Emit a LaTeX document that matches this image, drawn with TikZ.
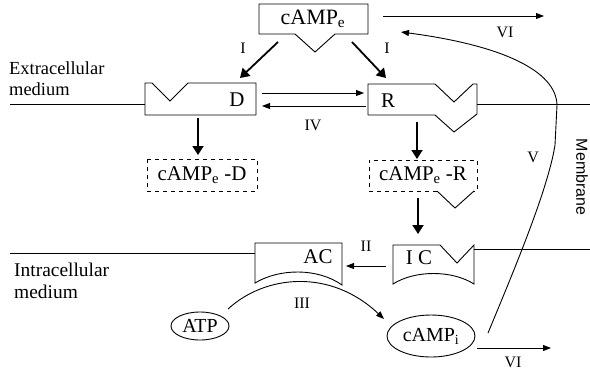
\documentclass[tikz,border=0pt]{standalone}
\usepackage{fontspec}
\setmainfont{Liberation Serif}
\newfontfamily\memfont{Liberation Sans}
\usetikzlibrary{arrows.meta, shapes.geometric, positioning}

\begin{document}
\begin{tikzpicture}[x=1bp, y=-1bp,
    outline/.style={draw, line width=0.9bp},
    dashbox/.style={draw, line width=0.9bp, dashed, dash pattern=on 4bp off 4bp},
    thickarrow/.style={line width=1.8bp, -{Triangle[length=9bp, width=11bp]}},
    thinarrow/.style={line width=0.9bp, -{Triangle[length=8bp, width=6bp]}},
    txt/.style={font=\fontsize{21}{23}\selectfont, inner sep=0pt},
    side/.style={inner sep=0pt, anchor=north west, align=left},
    roman/.style={font=\fontsize{16}{18}\selectfont, inner sep=0pt},
    molecule/.style={ellipse, draw, line width=0.9bp, inner sep=0pt, font=\fontsize{20}{22}\selectfont}]
  \useasboundingbox (0,0) rectangle (590,378);

  % membrane
  \draw[outline] (10,104) -- (145,104);
  \draw[outline] (477,104) -- (590,104);
  \draw[outline] (10,253) -- (255,253);
  \draw[outline] (474,249) -- (590,249);
  \node[side, font=\fontsize{18.5}{20.5}\selectfont] (extra) at (9,62) {Extracellular\\medium};
  \node[side, font=\fontsize{19.5}{22}\selectfont] (intra) at (14,263) {Intracellular\\medium};
  \node[font=\memfont\fontsize{16}{18}\selectfont, inner sep=0pt, rotate=-90] (membrane) at (582,177) {Membrane};

  % cAMPe outside
  \draw[outline] (295,34) -- (259,34) -- (259,4) -- (368,4) -- (368,34) -- (335,34) -- (315,52) -- cycle;
  \node[txt, font=\fontsize{22}{24}\selectfont] (campe) at (313,19) {cAMP\textsubscript{e}};

  % receptors D and R
  \draw[outline] (256,83) -- (188,83) -- (170,101) -- (152,83) -- (145,83) -- (145,115) -- (256,115) -- cycle;
  \node[txt] (D) at (237,100) {D};
  \draw[outline] (368,84) -- (435,84) -- (454,102) -- (473,84) -- (477,84) -- (477,114) -- (454,132) -- (435,115) -- (368,115) -- cycle;
  \node[txt] (R) at (388,101) {R};

  % complexes
  \draw[dashbox] (147,159) rectangle (257,191);
  \node[txt] (campeD) at (202,175) {cAMP\textsubscript{e} -D};
  \draw[dashbox] (437,191) -- (369,191) -- (369,160) -- (477,160) -- (477,191) -- (474,191);
  \draw[outline] (437,191) -- (455,208) -- (474,191);
  \node[txt] (campeR) at (423,175) {cAMP\textsubscript{e} -R};

  % AC and IC
  \draw[outline] (342,243) -- (255,243) -- (255,283) .. controls (280,268) and (318,268) .. (342,285) -- cycle;
  \node[txt] (AC) at (318,257) {AC};
  \draw[outline] (440,245) -- (393,245) -- (393,284) .. controls (415,270) and (452,270) .. (474,284) -- (474,245) -- (457,263) -- cycle;
  \node[txt] (IC) at (419,258) {I C};

  % molecules inside
  \node[molecule, minimum width=58bp, minimum height=28bp] (ATP) at (200,326) {ATP};
  \node[molecule, minimum width=88bp, minimum height=42bp] (campi) at (431,336) {cAMP\textsubscript{i}};

  % end points
  \coordinate (Ia) at (278,42);
  \coordinate (Ib) at (240,78);
  \coordinate (Ic) at (352,42);
  \coordinate (Id) at (386,78);
  \coordinate (IVa) at (262,93);
  \coordinate (IVb) at (364,93);
  \coordinate (IVc) at (366,106);
  \coordinate (IVd) at (262,106);
  \coordinate (Da) at (198,118);
  \coordinate (Db) at (198,155);
  \coordinate (Ra) at (417,122);
  \coordinate (Rb) at (417,159);
  \coordinate (CRa) at (418,198);
  \coordinate (CRb) at (418,234);
  \coordinate (IIa) at (386,266);
  \coordinate (IIb) at (346,266);
  \coordinate (IIIa) at (228,309);
  \coordinate (IIIb) at (384,319);
  \coordinate (Va) at (488,333);
  \coordinate (Vk) at (555,145);
  \coordinate (Vb) at (557,105);
  \coordinate (Vc) at (401,32);
  \coordinate (VIa) at (383,16);
  \coordinate (VIb) at (544,16);
  \coordinate (VIc) at (477,348);
  \coordinate (VId) at (551,348);

  % arrows
  \draw[thickarrow] (Ia) -- (Ib);
  \draw[thickarrow] (Ic) -- (Id);
  \draw[thinarrow] (IVa) -- (IVb);
  \draw[thinarrow] (IVc) -- (IVd);
  \draw[thickarrow] (Da) -- (Db);
  \draw[thickarrow] (Ra) -- (Rb);
  \draw[thickarrow] (CRa) -- (CRb);
  \draw[thinarrow] (IIa) -- (IIb);
  \draw[thinarrow] (IIIa) .. controls (265,275) and (330,268) .. (IIIb);
  \draw[thinarrow] (Va) .. controls (512,275) and (548,190) .. (Vk) -- (Vb) .. controls (556,70) and (500,45) .. (Vc);
  \draw[thinarrow] (VIa) -- (VIb);
  \draw[thinarrow] (VIc) -- (VId);

  % labels
  \node[roman] (lI1) at (243,48) {I};
  \node[roman] (lI2) at (387,48) {I};
  \node[roman] (lIV) at (313,125) {IV};
  \node[roman] (lII) at (366,246) {II};
  \node[roman] (lIII) at (302,303) {III};
  \node[roman] (lV) at (533,157) {V};
  \node[roman] (lVI1) at (505,32) {VI};
  \node[roman] (lVI2) at (513,362) {VI};
\end{tikzpicture}
\end{document}
